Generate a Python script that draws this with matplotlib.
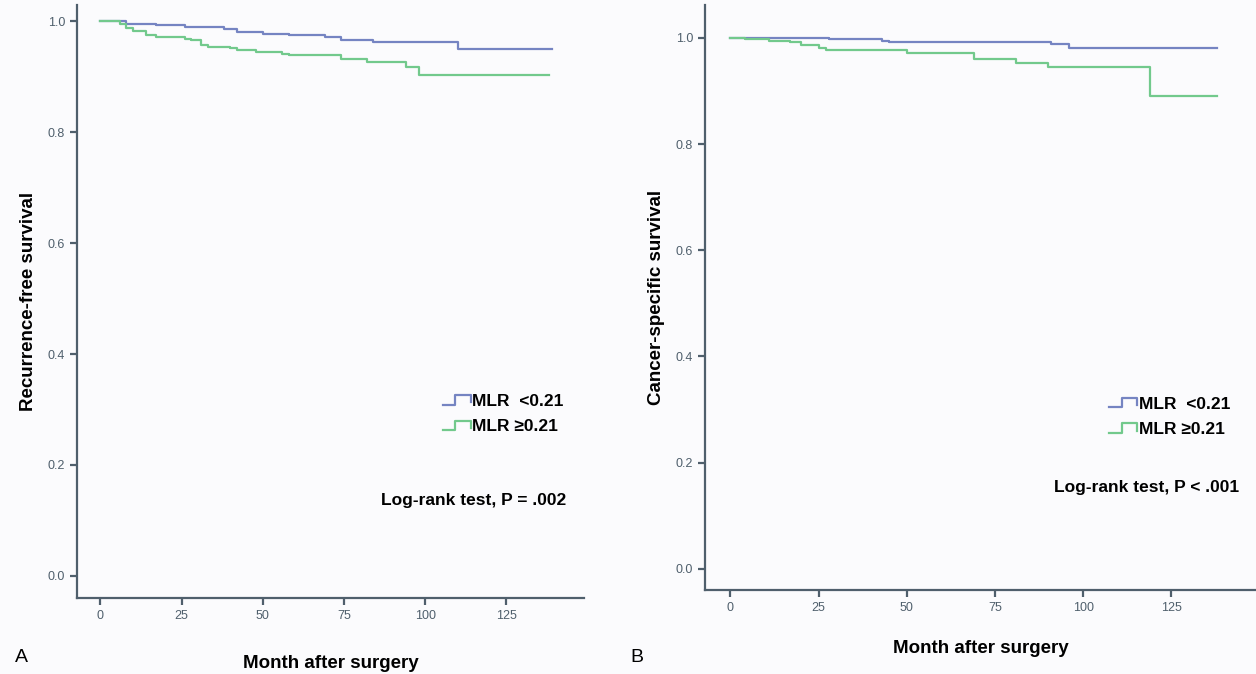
import matplotlib
matplotlib.use('Agg')
import matplotlib.pyplot as plt
from matplotlib.lines import Line2D
from matplotlib.legend_handler import HandlerBase

plt.rcParams['font.family'] = ['Liberation Sans', 'DejaVu Sans']

# Panel A - recurrence-free survival (month, survival)
a_low_t = [0, 8, 17, 26, 38, 42, 50, 58, 69, 74, 84, 110, 139]
a_low_s = [1.0, 0.996, 0.993, 0.990, 0.987, 0.981, 0.978, 0.975, 0.972, 0.967, 0.963, 0.951, 0.951]
a_high_t = [0, 6, 8, 10, 14, 17, 26, 28, 31, 33, 40, 42, 48, 56, 58, 74, 82, 94, 98, 138]
a_high_s = [1.0, 0.995, 0.989, 0.983, 0.975, 0.972, 0.969, 0.966, 0.957, 0.954, 0.953, 0.949,
            0.945, 0.942, 0.939, 0.933, 0.927, 0.918, 0.903, 0.903]

# Panel B - cancer-specific survival
b_low_t = [0, 28, 43, 45, 91, 96, 138]
b_low_s = [1.0, 0.998, 0.995, 0.992, 0.988, 0.981, 0.981]
b_high_t = [0, 4, 11, 17, 20, 25, 27, 50, 69, 81, 90, 119, 138]
b_high_s = [1.0, 0.998, 0.995, 0.992, 0.987, 0.981, 0.978, 0.972, 0.961, 0.953, 0.945, 0.890, 0.890]

x_ticks = [0, 25, 50, 75, 100, 125]
y_ticks = [0.0, 0.2, 0.4, 0.6, 0.8, 1.0]
group_labels = ['MLR  <0.21', 'MLR \u22650.21']

BLUE = '#7584c2'
GREEN = '#72c98c'
AXC = '#4f5f6c'
BG = '#fbfbfd'


class StepHandler(HandlerBase):
    # legend key drawn as a little step, like the SPSS output
    def create_artists(self, legend, orig_handle, xd, yd, w, h, fontsize, trans):
        xs = [-xd, -xd + w * 0.45, -xd + w * 0.45, -xd + w, -xd + w]
        ys = [-yd + h * 0.1, -yd + h * 0.1, -yd + h * 0.9, -yd + h * 0.9, -yd + h * 0.3]
        ln = Line2D(xs, ys, color=orig_handle.get_color(), lw=1.6, transform=trans)
        return [ln]


def km_panel(ax, t1, s1, t2, s2, ylab, ylim, ptext, leg_pos, p_pos, xpad):
    ax.set_facecolor(BG)
    l1, = ax.step(t1, s1, where='post', color=BLUE, lw=1.6)
    l2, = ax.step(t2, s2, where='post', color=GREEN, lw=1.6)
    ax.set_xlim(-7.2, 149)
    ax.set_ylim(*ylim)
    ax.set_xticks(x_ticks)
    ax.set_yticks(y_ticks)
    ax.set_yticklabels(['%.1f' % v for v in y_ticks])
    for s in ['top', 'right']:
        ax.spines[s].set_visible(False)
    for s in ['left', 'bottom']:
        ax.spines[s].set_color(AXC)
        ax.spines[s].set_linewidth(1.6)
    ax.tick_params(colors=AXC, labelsize=9, width=1.6, length=5)
    ax.set_xlabel('Month after surgery', fontsize=13.5, fontweight='bold', labelpad=xpad)
    ax.set_ylabel(ylab, fontsize=13.5, fontweight='bold', labelpad=8)
    ax.legend([l1, l2], group_labels, handler_map={Line2D: StepHandler()},
              loc='center left', bbox_to_anchor=leg_pos, frameon=False,
              prop={'size': 12.5, 'weight': 'bold'}, handlelength=1.6,
              handletextpad=0.1, labelspacing=0.6)
    ax.text(p_pos[0], p_pos[1], ptext, transform=ax.transAxes, ha='right',
            va='center', fontsize=12.5, fontweight='bold')


fig = plt.figure(figsize=(12.56, 6.74), dpi=100, facecolor=BG)
ax1 = fig.add_axes([0.0613, 0.1128, 0.404, 0.88])
ax2 = fig.add_axes([0.5613, 0.1246, 0.4387, 0.868])

km_panel(ax1, a_low_t, a_low_s, a_high_t, a_high_s, 'Recurrence-free survival',
         (-0.04, 1.03), 'Log-rank test, P = .002', (0.69, 0.31), (0.965, 0.165), 24)
km_panel(ax2, b_low_t, b_low_s, b_high_t, b_high_s, 'Cancer-specific survival',
         (-0.04, 1.062), 'Log-rank test, P < .001', (0.705, 0.296), (0.97, 0.176), 19)

fig.text(15 / 1256, 1 - 657 / 674, 'A', fontsize=14, va='center')
fig.text(630 / 1256, 1 - 657 / 674, 'B', fontsize=14, va='center')

fig.savefig('out.png', dpi=100, facecolor=BG)
